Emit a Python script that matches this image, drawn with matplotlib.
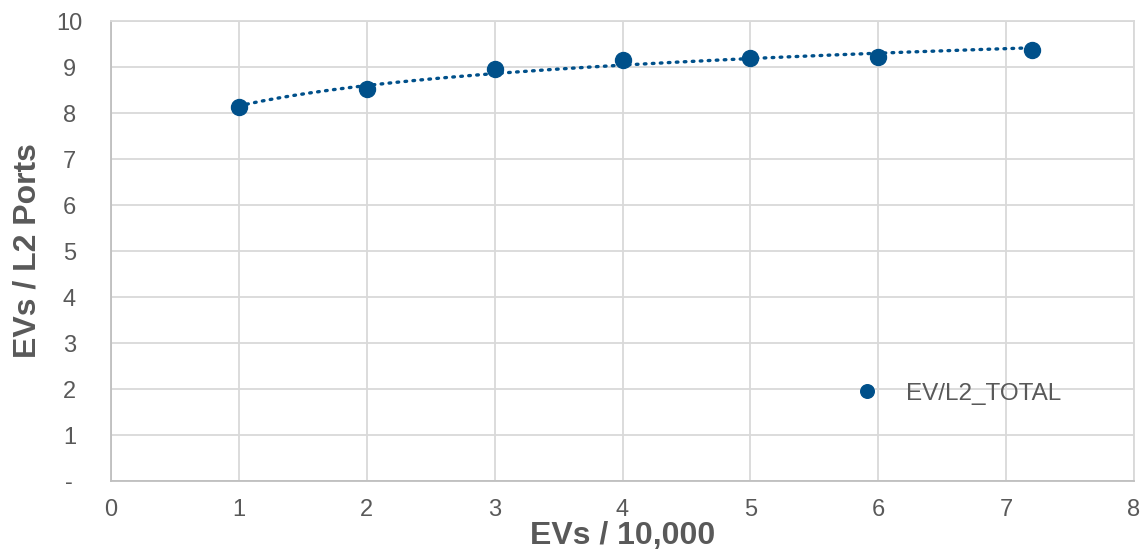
import numpy as np
import matplotlib
matplotlib.use("Agg")
import matplotlib.pyplot as plt

plt.rcParams['font.family'] = ['Liberation Sans', 'DejaVu Sans']

ev_x = [1, 2, 3, 4, 5, 6, 7.2]
ev_y = [8.13, 8.52, 8.96, 9.15, 9.20, 9.22, 9.37]
series_name = "EV/L2_TOTAL"
x_ticks = [0, 1, 2, 3, 4, 5, 6, 7, 8]
y_ticks = [0, 1, 2, 3, 4, 5, 6, 7, 8, 9, 10]
y_tick_labels = ["-", "1", "2", "3", "4", "5", "6", "7", "8", "9", "10"]

color = "#00508a"
grey = "#595959"
grid = "#d9d9d9"

fig = plt.figure(figsize=(11.46, 5.52), dpi=100)
ax = fig.add_axes([111/1146, 1-481/552, (1134-111)/1146, (481-21)/552])

# logarithmic trendline
b, a = np.polyfit(np.log(ev_x), ev_y, 1)
xt = np.linspace(min(ev_x), max(ev_x), 200)
ax.plot(xt, a + b*np.log(xt), color=color, lw=2.4, ls=(0, (0.5, 1.9)),
        dash_capstyle='round', zorder=2)
ax.plot(ev_x, ev_y, 'o', color=color, ms=11.5, zorder=3, label=series_name)

ax.set_xlim(0, 8)
ax.set_ylim(0, 10)
ax.set_xticks(x_ticks)
ax.set_yticks(y_ticks)
ax.set_yticklabels(y_tick_labels)
ax.grid(True, color=grid, lw=1.3)
ax.set_axisbelow(True)
for s in ax.spines.values():
    s.set_color(grid)
    s.set_linewidth(1.3)
ax.spines['left'].set_color("#bfbfbf")
ax.spines['bottom'].set_color("#bfbfbf")
ax.tick_params(length=0, labelsize=17, labelcolor=grey, pad=13)
ax.tick_params(axis='y', pad=30)
for lbl in ax.get_yticklabels():
    lbl.set_horizontalalignment('center')

ax.set_xlabel("EVs / 10,000", fontsize=23, fontweight='bold', color=grey, labelpad=0)
ax.set_ylabel("EVs / L2 Ports", fontsize=23, fontweight='bold', color=grey, labelpad=10)

ax.legend(loc='center left', bbox_to_anchor=(0.694, 0.19), frameon=False,
          fontsize=17.5, labelcolor=grey, handletextpad=0.6, markerscale=0.85)

fig.savefig("out.png", dpi=100)
